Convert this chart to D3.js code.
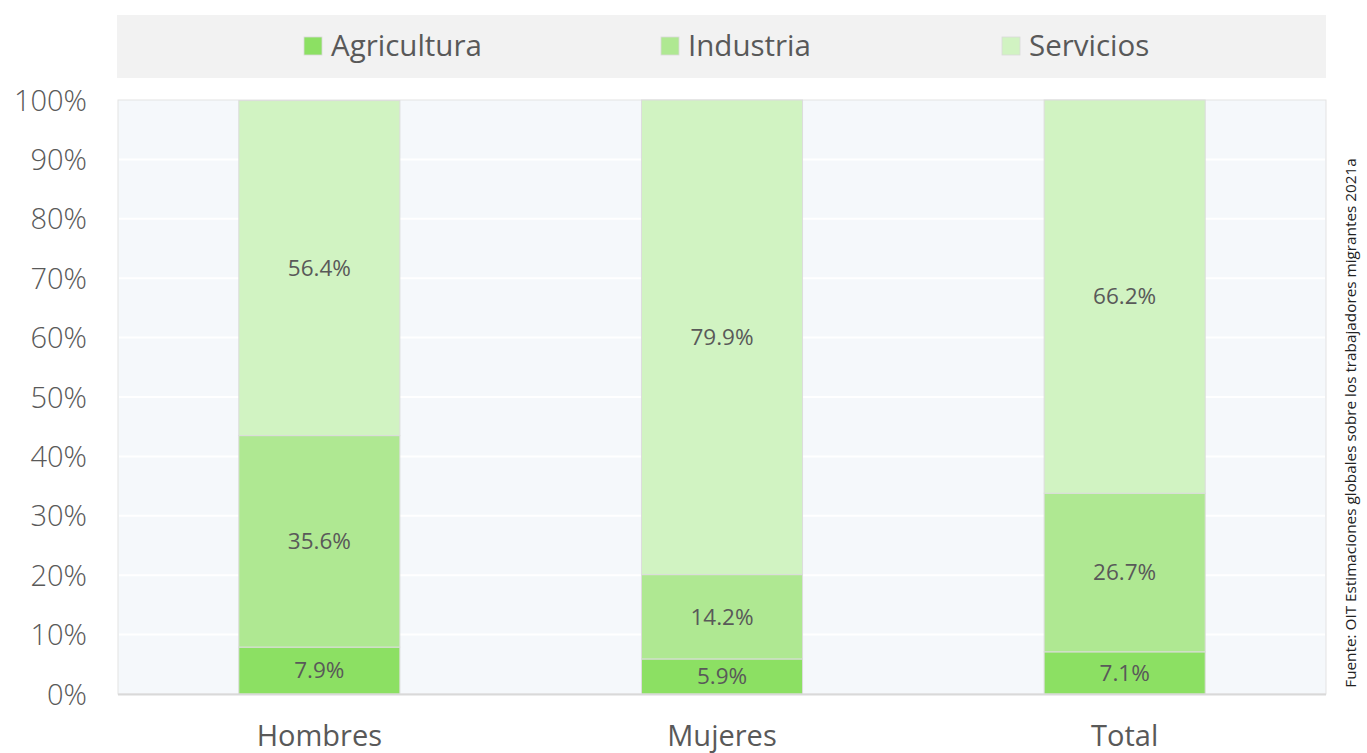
<!DOCTYPE html>
<meta charset="utf-8">
<script src="https://d3js.org/d3.v7.min.js"></script>
<style>
  body { margin: 0; background: #fff; }
  svg text { font-family: "Open Sans", "Noto Sans", sans-serif; fill: #595959; }
</style>
<div id="chart"></div>
<script>
// data
var categories = ["Hombres", "Mujeres", "Total"];
var seriesNames = ["Agricultura", "Industria", "Servicios"];
var agricultura = [7.9, 5.9, 7.1];
var industria = [35.6, 14.2, 26.7];
var servicios = [56.4, 79.9, 66.2];
var yTicks = [0, 10, 20, 30, 40, 50, 60, 70, 80, 90, 100];
var colors = ["#8ce063", "#afe892", "#d1f3c2"];
var source = "Fuente: OIT Estimaciones globales sobre los trabajadores migrantes 2021a";

var W = 1367, H = 753;
var plot = { left: 118, right: 1326, top: 100, bottom: 694 };

var svg = d3.select("#chart").append("svg")
    .attr("width", W).attr("height", H);

var rows = categories.map(function(c, i) {
  return { cat: c, Agricultura: agricultura[i], Industria: industria[i], Servicios: servicios[i] };
});
var stacked = d3.stack().keys(seriesNames)(rows);

var x = d3.scaleBand().domain(categories)
    .range([plot.left, plot.right]).paddingInner(0.6).paddingOuter(0.3);
var y = d3.scaleLinear().domain([0, 100]).range([plot.bottom, plot.top]);
var color = d3.scaleOrdinal().domain(seriesNames).range(colors);

// legend box
svg.append("rect").attr("x", 117).attr("y", 15).attr("width", 1209).attr("height", 63)
    .attr("fill", "#f2f2f2");
var legendX = [304, 661, 1002];
seriesNames.forEach(function(s, i) {
  var g = svg.append("g").attr("transform", "translate(" + legendX[i] + ",37)");
  g.append("rect").attr("width", 18).attr("height", 18)
      .attr("fill", color(s)).attr("stroke", "#d9d9d9").attr("stroke-width", 0.8);
  g.append("text").attr("x", 27).attr("y", 19).attr("font-size", "29.5px")
      .attr("textLength", null).text(s);
});

// plot background
svg.append("rect").attr("x", plot.left).attr("y", plot.top)
    .attr("width", plot.right - plot.left).attr("height", plot.bottom - plot.top)
    .attr("fill", "#f5f8fb").attr("stroke", "#e3e3e3").attr("stroke-width", 1);

// gridlines
svg.append("g").selectAll("line").data(yTicks.slice(1, -1)).enter().append("line")
    .attr("x1", plot.left + 1).attr("x2", plot.right - 1)
    .attr("y1", function(d) { return y(d); }).attr("y2", function(d) { return y(d); })
    .attr("stroke", "#ffffff").attr("stroke-width", 2);

// y axis labels
var yAxis = svg.append("g").attr("transform", "translate(" + (plot.left - 31) + ",0)")
    .call(d3.axisLeft(y).tickValues(yTicks).tickSize(0).tickPadding(0)
      .tickFormat(function(d) { return d + "%"; }));
yAxis.select(".domain").remove();
yAxis.selectAll("text").attr("font-size", "29px").attr("fill", "#595959")
    .attr("font-family", "'Open Sans', sans-serif").attr("dy", "0.35em")
    .style("font-weight", 300);

// bars
var layers = svg.append("g").selectAll("g").data(stacked).enter().append("g")
    .attr("fill", function(d) { return color(d.key); });
layers.selectAll("rect").data(function(d) { return d; }).enter().append("rect")
    .attr("x", function(d) { return x(d.data.cat); })
    .attr("width", x.bandwidth())
    .attr("y", function(d) { return y(d[1]); })
    .attr("height", function(d) { return y(d[0]) - y(d[1]); })
    .attr("stroke", "#dcdcdc").attr("stroke-width", 1);

// data labels
layers.selectAll("text").data(function(d) { return d; }).enter().append("text")
    .attr("x", function(d) { return x(d.data.cat) + x.bandwidth() / 2; })
    .attr("y", function(d) { return (y(d[0]) + y(d[1])) / 2; })
    .attr("dy", "0.35em").attr("text-anchor", "middle").attr("font-size", "22.5px")
    .text(function(d) { return (d[1] - d[0]).toFixed(1) + "%"; });

// bottom axis line
svg.append("line").attr("x1", plot.left).attr("x2", plot.right)
    .attr("y1", plot.bottom + 0.5).attr("y2", plot.bottom + 0.5)
    .attr("stroke", "#d9d9d9").attr("stroke-width", 2);

// category labels
var xAxis = svg.append("g").attr("transform", "translate(0," + plot.bottom + ")")
    .call(d3.axisBottom(x).tickSize(0).tickPadding(0));
xAxis.select(".domain").remove();
xAxis.selectAll("text").attr("font-size", "29px").attr("fill", "#595959")
    .attr("font-family", "'Open Sans', sans-serif").attr("dy", "0").attr("y", 52);

// source
svg.append("text").attr("transform", "translate(1356,423) rotate(-90)")
    .attr("text-anchor", "middle").attr("font-size", "15.3px")
    .style("fill", "#222").text(source);
</script>
